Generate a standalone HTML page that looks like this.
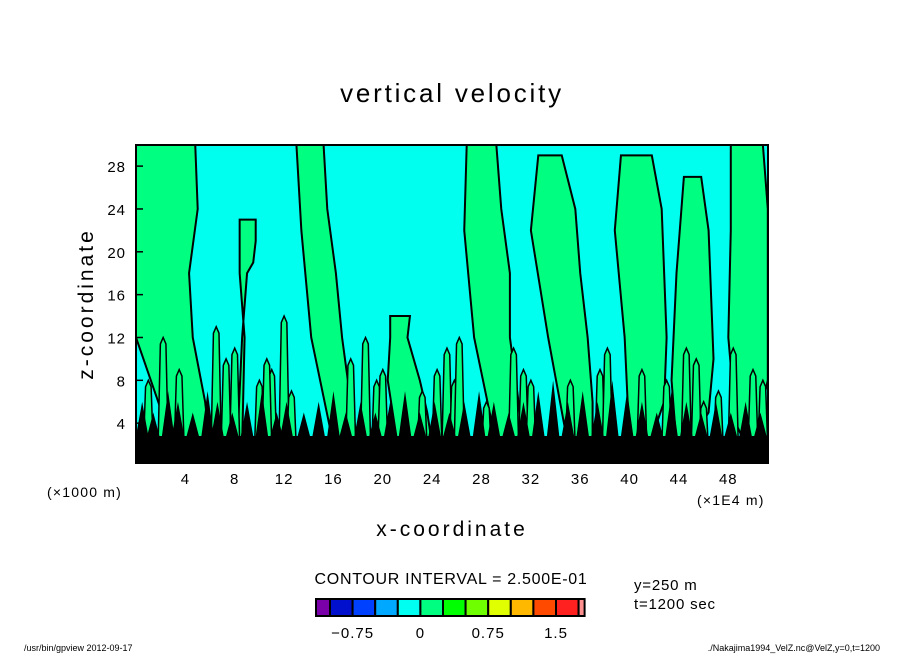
<!DOCTYPE html>
<html><head><meta charset="utf-8"><style>
body{margin:0;background:#fff;}
svg text{font-family:"Liberation Sans",sans-serif;}
</style></head><body>
<svg id="c" width="904" height="654" viewBox="0 0 904 654" xmlns="http://www.w3.org/2000/svg">
<text x="452" y="102" text-anchor="middle" font-size="26" letter-spacing="2.8">vertical velocity</text>
<defs><clipPath id="pc"><rect x="136" y="145" width="632" height="318"/></clipPath></defs>
<g id="plot" clip-path="url(#pc)">
<rect x="136" y="145" width="632" height="318" fill="#00ffee"/>
</g>
<rect x="136" y="145" width="632" height="318" fill="none" stroke="#000" stroke-width="2"/>
<g id="axes"></g>
<text x="452" y="536" text-anchor="middle" font-size="21" letter-spacing="3">x-coordinate</text>
<text x="93" y="304" text-anchor="middle" font-size="21" letter-spacing="3" transform="rotate(-90 93 304)">z-coordinate</text>
<text x="47" y="497" font-size="14" letter-spacing="1.2">(×1000 m)</text>
<text x="697" y="505" font-size="14" letter-spacing="1.2">(×1E4 m)</text>
<text x="451" y="584" text-anchor="middle" font-size="16" letter-spacing="0.7">CONTOUR INTERVAL = 2.500E-01</text>
<text x="634" y="590" font-size="15" letter-spacing="0.8">y=250 m</text>
<text x="634" y="609" font-size="15" letter-spacing="0.8">t=1200 sec</text>
<g id="cbar"></g>
<text x="24" y="651" font-size="9">/usr/bin/gpview   2012-09-17</text>
<text x="880" y="651" text-anchor="end" font-size="9">./Nakajima1994_VelZ.nc@VelZ,y=0,t=1200</text>
</svg>
<script>
// axis ranges
const xTicks=[4,8,12,16,20,24,28,32,36,40,44,48];
const zTicks=[4,8,12,16,20,24,28];
// green plumes (x, z) outlines
const plumeXs=[
 [0,4.8,5,4.3,4.6,5.6,6,5,3,0],
 [13,15.2,15.5,16.2,16.7,17.4,18,16,14.2,13.4],
 [26.8,29.2,29.6,30.3,30.3,31,31.4,29.2,27.4,26.6],
 [32.6,34.5,35.6,36,36.6,37,37,35,33.4,32],
 [39.3,41.8,42.6,42.8,43,42.8,41.6,40,39.6,38.8],
 [44.4,45.8,46.4,46.6,46.8,46.4,44.8,43.8,43.4,43.8],
 [48.2,50.8,51.2,51.2,51.2,50.4,49.4,48.6,48,48.2],
 [8.4,9.7,9.7,9.5,9,8.6,8.2,8.6,8.8,8.4],
 [20.6,22.2,22,23,23.6,24,22.2,21.2,20.4,20.6]
];
const plumeZs=[
 [30,30,24,18,12,6,2,2,2,12],
 [30,30,24,18,12,6,2,2,12,22],
 [30,30,24,18,12,6,2,2,12,22],
 [29,29,24,18,12,6,2,2,12,22],
 [29,29,24,18,12,6,2,2,12,22],
 [27,27,22,16,10,5,2,2,8,18],
 [30,30,24,16,8,4,2,4,12,22],
 [23,23,21,19,18,12,2,2,12,18],
 [14,14,12,8,5,2,2,2,8,12]
];
// narrow fingers near the ground: centre x, top z
const fingerX=[1,2.2,3.5,6.5,7.3,8,10,11,12,12.6,17.4,18.6,19.5,20,24.4,25.2,25.8,26.2,30.6,31.4,32,37.6,38.2,41,43,44.6,45.4,47.2,48.4,50,50.8,10.6,23.2,28.4,35.2,46];
const fingerZ=[8,12,9,13,10,11,8,9,14,7,10,12,8,9,9,11,8,12,11,9,8,9,11,9,8,11,10,7,11,9,8,10,7,6,8,6];
const blackX=[0.5,1.4,2.6,3.4,4.6,5.8,6.6,7.8,9,10.2,11.4,12.2,13.6,14.8,16,17,18.2,19.4,20.6,21.8,23,24.2,25.4,26.6,27.8,29,30.2,31.4,32.6,33.8,35,36.2,37.4,38.6,39.8,41,42.2,43.4,44.6,45.8,47,48.2,49.4,50.6];
const blackZ=[6,5,7,6,5,7,6,5,6,7,5,6,5,6,7,5,6,5,6,7,5,6,5,6,7,6,5,6,7,8,6,7,6,8,7,6,5,7,6,5,6,5,6,5];
const cbColors=["#7a00aa","#0010cc","#0040ff","#00a8ff","#00fff0","#00ff80","#00ff00","#70ff00","#e0ff00","#ffb800","#ff4a00","#ff2020","#ff9090"];
const cbLabels=["-0.75","0","0.75","1.5"];
const cbLabelPos=[1.5,4.5,7.5,10.5];

const X0=136,XU=12.34,Z0=466,ZU=10.71;
const sx=x=>X0+x*XU, sz=z=>Z0-z*ZU;
const NS="http://www.w3.org/2000/svg";
function mk(t,a,p){const e=document.createElementNS(NS,t);for(const k in a)e.setAttribute(k,a[k]);p.appendChild(e);return e;}
const plot=document.getElementById('plot');
plumeXs.forEach((xs,i)=>{
 const pts=xs.map((x,j)=>sx(x)+","+sz(plumeZs[i][j])).join(" ");
 const p=mk('polygon',{points:pts,fill:"#00ff80",stroke:"#000","stroke-width":2},plot);
 
 
});
fingerX.forEach((x,i)=>{
 const w=0.45,zt=fingerZ[i];
 const pts=`${sx(x-w)},${sz(0)} ${sx(x-w*0.5)},${sz(zt-0.6)} ${sx(x)},${sz(zt)} ${sx(x+w*0.5)},${sz(zt-0.6)} ${sx(x+w)},${sz(0)}`;
 const p=mk('polygon',{points:pts,fill:"#00ff80",stroke:"#000","stroke-width":1.5},plot);
 
 
});
let bp=`${sx(0)},${sz(0)} `;
blackX.forEach((x,i)=>{bp+=`${sx(x-0.5)},${sz(2.8)} ${sx(x)},${sz(blackZ[i])} ${sx(x+0.5)},${sz(2.8)} `;});
bp+=`${sx(51.5)},${sz(2.8)} ${sx(51.5)},${sz(0)}`;
const bl=mk('polygon',{points:bp,fill:"#000"},plot);


const ax=document.getElementById('axes');
xTicks.forEach(t=>{
 const l=mk('line',{x1:sx(t),x2:sx(t),y1:463,y2:456,stroke:"#000","stroke-width":1.5},ax);
 
 
 const tx=mk('text',{x:sx(t),y:484,"text-anchor":"middle","font-size":15,"letter-spacing":1},ax);
 tx.textContent=t;
 
 
});
zTicks.forEach(t=>{
 const l=mk('line',{x1:136,x2:143,y1:sz(t),y2:sz(t),stroke:"#000","stroke-width":1.5},ax);
 
 
 const tx=mk('text',{x:126,y:sz(t)+6,"text-anchor":"end","font-size":15,"letter-spacing":1},ax);
 tx.textContent=t;
 
 
});
const cb=document.getElementById('cbar');
const cbx=316,cbw=22.6;
cbColors.forEach((c,i)=>{
 const w=(i===0||i===cbColors.length-1)?(i===0?14:6):cbw;
 const x=i===0?cbx:cbx+14+(i-1)*cbw;
 const r=mk('rect',{x:x,y:599,width:w,height:17,fill:c,stroke:"#000","stroke-width":2},cb);
 
 
});
cbLabels.forEach((s,i)=>{
 const tx=mk('text',{x:cbx+14+(cbLabelPos[i]-1)*cbw+cbw/2,y:638,"text-anchor":"middle","font-size":15,"letter-spacing":1},cb);
 tx.textContent=s.replace('-','−');
 
 
});
</script>
</body></html>
